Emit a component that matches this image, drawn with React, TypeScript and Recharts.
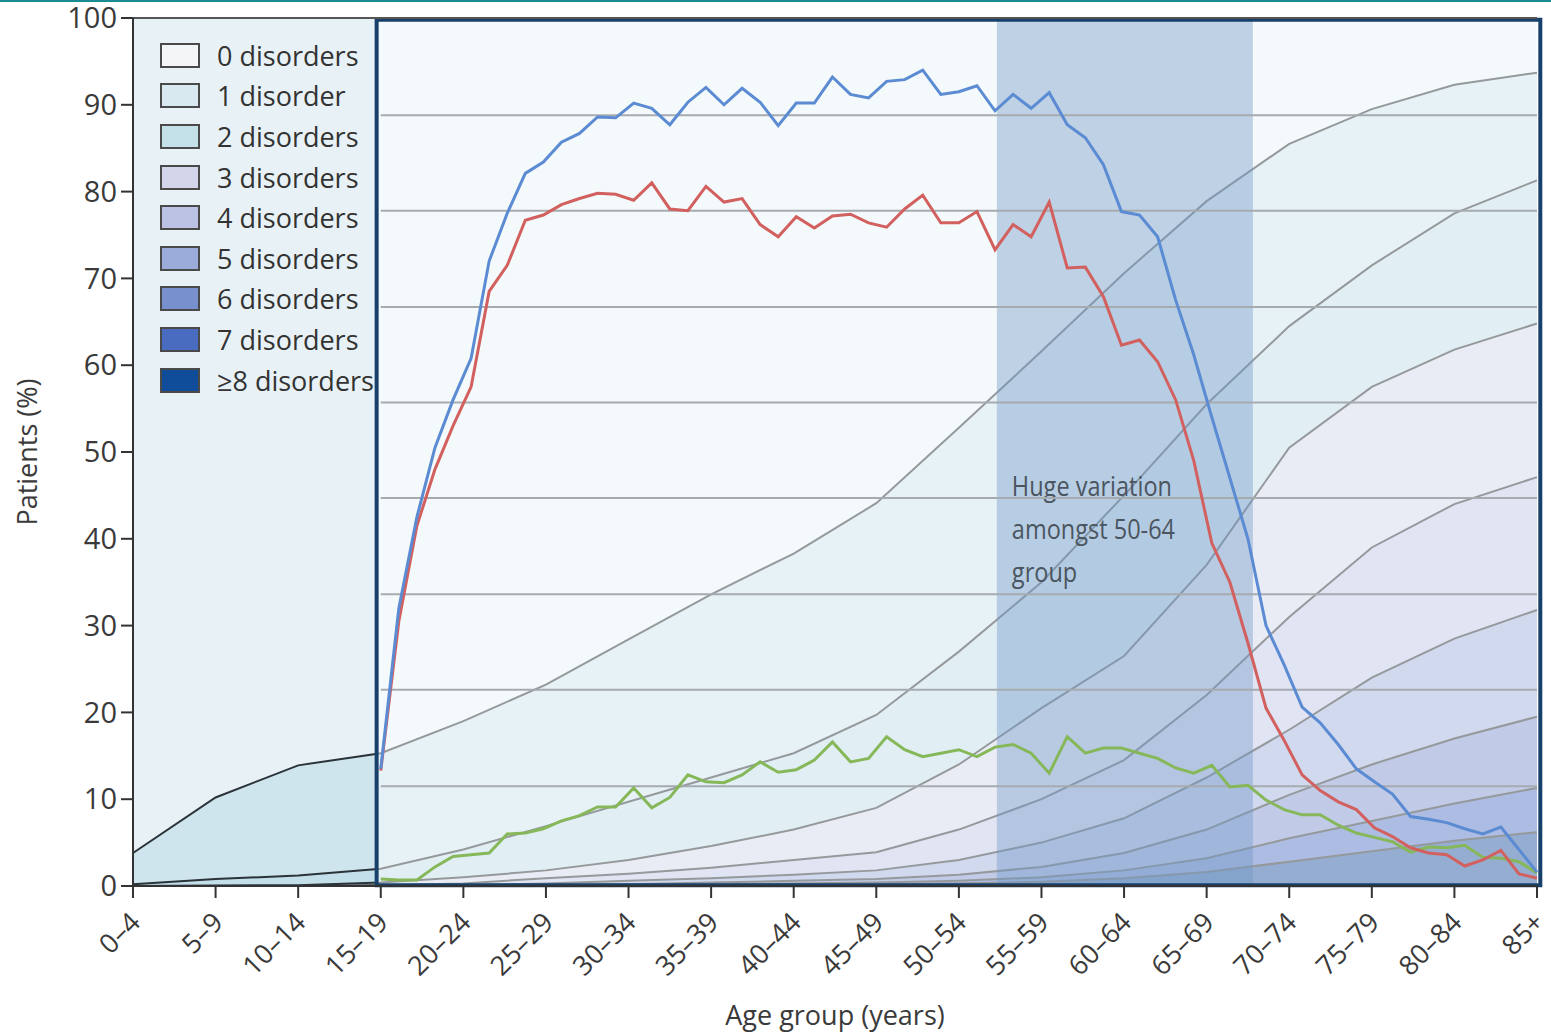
import React from "react"
import {
  ComposedChart,
  Area,
  Line,
  XAxis,
  YAxis,
  CartesianGrid,
  ReferenceArea,
  ReferenceLine,
} from "recharts"

// age groups on the x axis
const ageGroups = [
  "0–4", "5–9", "10–14", "15–19", "20–24", "25–29", "30–34", "35–39", "40–44",
  "45–49", "50–54", "55–59", "60–64", "65–69", "70–74", "75–79", "80–84", "85+",
]

// cumulative % of patients with at least k disorders, per age group
const atLeast1 = [3.8, 10.2, 13.9, 15.3, 19.0, 23.2, 28.4, 33.6, 38.3, 44.1, 52.8, 61.6, 70.6, 78.9, 85.5, 89.5, 92.3, 93.7]
const atLeast2 = [0.2, 0.8, 1.2, 2.0, 4.2, 6.9, 9.7, 12.5, 15.3, 19.7, 27.0, 35.0, 45.0, 55.5, 64.5, 71.5, 77.5, 81.3]
const atLeast3 = [0, 0.05, 0.1, 0.4, 1.0, 1.8, 3.0, 4.6, 6.5, 9.0, 14.0, 20.5, 26.5, 37.0, 50.5, 57.5, 61.8, 64.8]
const atLeast4 = [0, 0, 0, 0.1, 0.3, 0.9, 1.4, 2.1, 3.0, 3.9, 6.5, 10.0, 14.5, 22.0, 31.0, 39.0, 44.0, 47.1]
const atLeast5 = [0, 0, 0, 0, 0.1, 0.3, 0.6, 0.9, 1.3, 1.8, 3.0, 5.0, 7.8, 12.5, 18.0, 24.0, 28.5, 31.8]
const atLeast6 = [0, 0, 0, 0, 0, 0.1, 0.2, 0.4, 0.6, 0.8, 1.3, 2.2, 3.8, 6.5, 10.5, 14.0, 17.0, 19.5]
const atLeast7 = [0, 0, 0, 0, 0, 0, 0.1, 0.2, 0.3, 0.4, 0.6, 1.0, 1.8, 3.2, 5.5, 7.5, 9.5, 11.3]
const atLeast8 = [0, 0, 0, 0, 0, 0, 0, 0.1, 0.1, 0.2, 0.3, 0.5, 0.9, 1.6, 2.8, 4.0, 5.2, 6.2]

const legendLabels = [
  "0 disorders", "1 disorder", "2 disorders", "3 disorders", "4 disorders",
  "5 disorders", "6 disorders", "7 disorders", "≥8 disorders",
]

// pasted-in overlay series (evenly spaced from 15–19 to 85+)
const blueLine = [
  13.5, 32, 42.5, 50.5, 56, 60.8, 72, 77.5,
  82.1, 83.4, 85.7, 86.7, 88.6, 88.5, 90.2, 89.6, 87.7, 90.3,
  92.0, 90.0, 91.9, 90.3, 87.6, 90.2, 90.2, 93.2, 91.2, 90.8,
  92.7, 92.9, 94.0, 91.2, 91.5, 92.2, 89.3, 91.2, 89.6, 91.4,
  87.7, 86.2, 83.1, 77.7, 77.3, 74.8, 67.5,
  61.2, 54, 47, 40, 30, 25.5, 20.6, 18.8, 16.3, 13.5,
  12, 10.6, 8, 7.7, 7.3, 6.6, 6.0, 6.8, 4.2, 1.6,
]
const redLine = [
  13.3, 30.5, 41.5, 48, 53, 57.5, 68.5, 71.5,
  76.7, 77.3, 78.5, 79.2, 79.8, 79.7, 79.0, 81.0, 78.0, 77.8,
  80.6, 78.8, 79.2, 76.2, 74.8, 77.1, 75.8, 77.2, 77.4, 76.4,
  75.9, 78.0, 79.6, 76.4, 76.4, 77.7, 73.3, 76.2, 74.8, 78.8,
  71.2, 71.3, 67.9,
  62.3, 62.9, 60.4, 56, 49, 39.5, 35, 28, 20.5, 16.8,
  12.8, 11, 9.7, 8.8, 6.7, 5.7, 4.4, 3.8, 3.6, 2.3, 3.0, 4.1, 1.4, 0.9,
]
const greenLine = [
  0.8, 0.7, 0.7, 2.2, 3.4, 3.6, 3.8, 6.0, 6.1, 6.6,
  7.5, 8.1, 9.1, 9.1, 11.3, 9.0, 10.2, 12.8, 12.0, 11.9,
  12.8, 14.3, 13.1, 13.4, 14.5, 16.6, 14.3, 14.7, 17.2, 15.7,
  14.9, 15.3, 15.7, 14.9, 16.0, 16.3, 15.3, 13.0, 17.2, 15.3,
  15.9, 15.9, 15.3, 14.7, 13.6, 13.0, 13.9, 11.4, 11.6, 9.9,
  8.8, 8.2, 8.2, 7.0, 6.1, 5.6, 5.1, 3.9, 4.5, 4.4,
  4.7, 3.3, 3.2, 2.8, 1.5,
]

// gridlines belonging to the pasted overlay chart
const overlayGrid = [88.8, 77.8, 66.7, 55.7, 44.7, 33.6, 22.6, 11.5]

const noteLines = ["Huge variation", "amongst 50-64", "group"]

const cumulative = [atLeast1, atLeast2, atLeast3, atLeast4, atLeast5, atLeast6, atLeast7, atLeast8]
const areaFills = ["#cfe5ee", "#c3dfea", "#d4d8ea", "#c2c8e6", "#a3b2dc", "#8297d0", "#5a79c4", "#2a5aa3"]
const swatchColors = ["#f3f5f7", "#d8e9ef", "#c4e0e9", "#d3d6ea", "#bcc2e4", "#9cacda", "#7890cd", "#4a6cc0", "#0f4c99"]

const areaData = ageGroups.map((_, i) => {
  const row: any = { x: i }
  cumulative.forEach((arr, k) => (row["p" + (k + 1)] = arr[i]))
  return row
})

const lineData = blueLine.map((v, i) => ({
  x: 3 + (i * 14) / (blueLine.length - 1),
  blue: v,
  red: redLine[i],
  green: greenLine[i],
}))

const AgeTick = ({ x, y, payload }: any) => {
  const ax = x + 9
  const ay = y + 24
  return (
    <text x={ax} y={ay} textAnchor="end" transform={`rotate(-45, ${ax}, ${ay})`} fontSize={27} fill="#3a3a3a">
      {ageGroups[payload.value]}
    </text>
  )
}

const renderNote = (props: any) => {
  const { x, y } = props.viewBox
  return (
    <g transform={`translate(${x + 15}, ${y}) scale(0.84, 1)`}>
      {noteLines.map((t, i) => (
        <text key={t} x={0} y={476 + i * 43} fontSize={28} fill="#4b5560">
          {t}
        </text>
      ))}
    </g>
  )
}

export default function App() {
  return (
    <div style={{ position: "relative", width: 1551, height: 1035, background: "#fff", fontFamily: "'Open Sans', sans-serif" }}>
      <style>{"body{margin:0}"}</style>
      <div style={{ position: "absolute", left: 0, top: 0, width: 1551, height: 2, background: "#1b8b92" }} />
      <ComposedChart width={1551} height={1035} margin={{ top: 18, right: 14, left: 0, bottom: 0 }}>
        <CartesianGrid horizontal={false} vertical={false} fill="#e8f2f6" />
        <XAxis
          type="number"
          dataKey="x"
          domain={[0, 17]}
          ticks={ageGroups.map((_, i) => i)}
          interval={0}
          height={149}
          tick={<AgeTick />}
          tickSize={12}
          axisLine={{ stroke: "#333", strokeWidth: 2 }}
          tickLine={{ stroke: "#333", strokeWidth: 2 }}
          label={{ value: "Age group (years)", position: "insideBottom", offset: 10, fontSize: 27, fill: "#3a3a3a" }}
        />
        <YAxis
          domain={[0, 100]}
          ticks={[0, 10, 20, 30, 40, 50, 60, 70, 80, 90, 100]}
          width={133}
          tickSize={12}
          tickMargin={4}
          tick={{ fontSize: 29, fill: "#3a3a3a" }}
          axisLine={{ stroke: "#333", strokeWidth: 2 }}
          tickLine={{ stroke: "#333", strokeWidth: 2 }}
          label={{ value: "Patients (%)", angle: -90, position: "insideLeft", offset: 27, fontSize: 27, fill: "#3a3a3a", style: { textAnchor: "middle" } }}
        />
        {cumulative.map((_, k) => (
          <Area
            key={k}
            data={areaData}
            dataKey={"p" + (k + 1)}
            type="linear"
            stroke="#2a3338"
            strokeWidth={2}
            fill={areaFills[k]}
            fillOpacity={1}
            dot={false}
            activeDot={false}
            isAnimationActive={false}
          />
        ))}
        <ReferenceLine y={100} stroke="#555" strokeWidth={2} />
        <ReferenceArea x1={2.95} x2={17.04} y1={0.1} y2={99.8} fill="#ffffff" fillOpacity={0.5} stroke="none" ifOverflow="visible" />
        {overlayGrid.map((v) => (
          <ReferenceLine key={v} segment={[{ x: 3, y: v }, { x: 17, y: v }]} stroke="#a6abb0" strokeWidth={2} />
        ))}
        <Line data={lineData} dataKey="green" type="linear" stroke="#86b85a" strokeWidth={3} dot={false} isAnimationActive={false} />
        <Line data={lineData} dataKey="red" type="linear" stroke="#d2605f" strokeWidth={3} dot={false} isAnimationActive={false} />
        <Line data={lineData} dataKey="blue" type="linear" stroke="#5b8bd2" strokeWidth={3} dot={false} isAnimationActive={false} />
        <ReferenceArea
          x1={10.46}
          x2={13.56}
          y1={0.1}
          y2={99.8}
          fill="#6f95c6"
          fillOpacity={0.4}
          stroke="none"
          ifOverflow="visible"
          label={{ content: renderNote }}
        />
        <ReferenceArea x1={2.95} x2={17.04} y1={0.1} y2={99.8} fill="none" stroke="#17406b" strokeWidth={4} ifOverflow="visible" />
      </ComposedChart>
      <div style={{ position: "absolute", left: 160, top: 35 }}>
        {legendLabels.map((t, i) => (
          <div key={t} style={{ display: "flex", alignItems: "center", height: 40.6 }}>
            <div style={{ width: 36, height: 21, border: "2px solid #4a4a4a", background: swatchColors[i] }} />
            <span style={{ marginLeft: 17, fontSize: 27, color: "#333", lineHeight: 1 }}>{t}</span>
          </div>
        ))}
      </div>
    </div>
  )
}
